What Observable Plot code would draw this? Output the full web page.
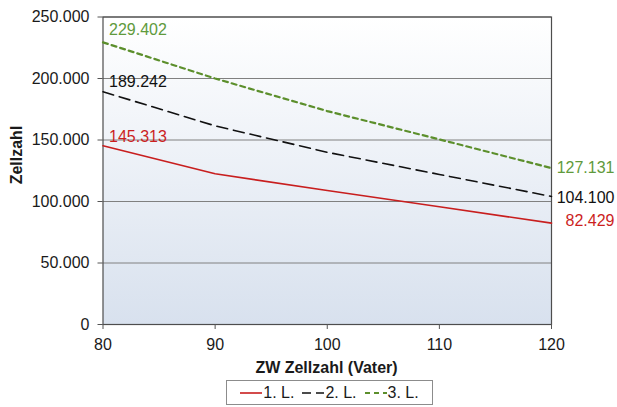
<!DOCTYPE html>
<html>
<head>
<meta charset="utf-8">
<script src="https://cdn.jsdelivr.net/npm/d3@7"></script>
<script src="https://cdn.jsdelivr.net/npm/@observablehq/plot@0.6"></script>
<style>
  html, body { margin: 0; padding: 0; background: #fff; }
  #wrap { position: relative; width: 617px; height: 407px; font-family: "Liberation Sans", Arial, sans-serif; }
  #legend { position: absolute; left: 226px; top: 380px; width: 207px; height: 25px; border: 1px solid #8c8c8c; box-sizing: border-box;
            display: flex; align-items: center; justify-content: center; font-size: 16px; color: #1a1a1a; background: #fff; }
  #legend span.item { display: inline-flex; align-items: center; margin: 0 4px; }
  #legend svg { margin-right: 1px; }
</style>
</head>
<body>
<div id="wrap"></div>
<script>
// ---- data ----
const xValues = [80, 90, 100, 110, 120];
const seriesNames = ["1. L.", "2. L.", "3. L."];
const l1 = [145313, 122500, 109000, 95700, 82429];
const l2 = [189242, 161500, 140000, 122000, 104100];
const l3 = [229402, 200000, 173500, 150500, 127131];
const yTicks = [0, 50000, 100000, 150000, 200000, 250000];
const xTicks = [80, 90, 100, 110, 120];

const colors = ["#c81e1e", "#111111", "#5c8f2c"];
const textColors = ["#cc1f1f", "#111111", "#5f9a3c"];
const dashes = [null, "11,6", "5,4"];
const widths = [1.6, 1.6, 2.2];

const seriesValues = [l1, l2, l3];
const rows = seriesNames.flatMap((s, i) => xValues.map((x, j) => ({series: s, si: i, x, y: seriesValues[i][j]})));
const firstPts = rows.filter(d => d.x === xValues[0]);
const lastPts = rows.filter(d => d.x === xValues[xValues.length - 1]);

const de = d3.formatLocale({decimal: ",", thousands: ".", grouping: [3], currency: ["", "€"]});
const fmt = de.format(",d");

const W = 617, H = 377;
const font = "16px";

const gradientMark = () => {
  const ns = "http://www.w3.org/2000/svg";
  const defs = document.createElementNS(ns, "defs");
  defs.innerHTML = `<linearGradient id="bg" x1="0" y1="0" x2="0" y2="1">
    <stop offset="0" stop-color="#ffffff"/>
    <stop offset="1" stop-color="#d8e1ee"/></linearGradient>`;
  return defs;
};

const leftDy = [-9, -10, -12];
const rightDy = [-2, 1, 0];

const chart = Plot.plot({
  width: W,
  height: H,
  marginLeft: 102.5,
  marginRight: 66,
  marginTop: 16.5,
  marginBottom: H - 324,
  style: {fontFamily: "'Liberation Sans', Arial, sans-serif", fontSize: font, color: "#1a1a1a", background: "transparent"},
  x: {domain: [80, 120], ticks: xTicks, label: null},
  y: {domain: [0, 250000], ticks: yTicks, label: null},
  marks: [
    gradientMark,
    Plot.frame({fill: "url(#bg)", stroke: null}),
    Plot.gridY(yTicks, {stroke: "#808080", strokeOpacity: 1, strokeWidth: 1}),
    Plot.frame({stroke: "#4d4d4d", strokeWidth: 1.2}),
    Plot.axisX({ticks: xTicks, tickSize: 5, tickPadding: 9.5, tickFormat: d => String(d), fontSize: font, stroke: "#555", label: null}),
    Plot.axisY({ticks: yTicks, tickSize: 5, tickPadding: 8.5, tickFormat: fmt, fontSize: font, stroke: "#555", label: null}),
    ...seriesNames.map((s, i) => Plot.line(rows.filter(d => d.si === i), {
      x: "x", y: "y", stroke: colors[i], strokeWidth: widths[i], strokeDasharray: dashes[i]
    })),
    ...firstPts.map(d => Plot.text([d], {
      x: "x", y: "y", text: v => fmt(v.y), textAnchor: "start", dx: 6, dy: leftDy[d.si],
      fill: textColors[d.si], fontSize: font
    })),
    ...lastPts.map(d => Plot.text([d], {
      x: "x", y: "y", text: v => fmt(v.y), textAnchor: "end", dx: 63, dy: rightDy[d.si],
      fill: textColors[d.si], fontSize: font
    }))
  ]
});

const svg = d3.select(chart);
svg.append("text")
  .attr("x", 326.5).attr("y", 373)
  .attr("text-anchor", "middle")
  .attr("font-weight", "bold").attr("font-size", "16px").attr("fill", "#1a1a1a")
  .text("ZW Zellzahl (Vater)");
svg.append("text")
  .attr("transform", "translate(22,155) rotate(-90)")
  .attr("text-anchor", "middle")
  .attr("font-weight", "bold").attr("font-size", "16px").attr("fill", "#1a1a1a")
  .text("Zellzahl");

const wrap = document.getElementById("wrap");
wrap.appendChild(chart);

// legend
const legend = document.createElement("div");
legend.id = "legend";
seriesNames.forEach((s, i) => {
  const item = document.createElement("span");
  item.className = "item";
  const sw = d3.create("svg").attr("width", 22).attr("height", 10);
  sw.append("line").attr("x1", 0).attr("x2", 22).attr("y1", 5).attr("y2", 5)
    .attr("stroke", colors[i]).attr("stroke-width", widths[i])
    .attr("stroke-dasharray", i === 1 ? "9,5" : dashes[i]);
  item.appendChild(sw.node());
  const t = document.createElement("span");
  t.textContent = s;
  item.appendChild(t);
  legend.appendChild(item);
});
wrap.appendChild(legend);
</script>
</body>
</html>
